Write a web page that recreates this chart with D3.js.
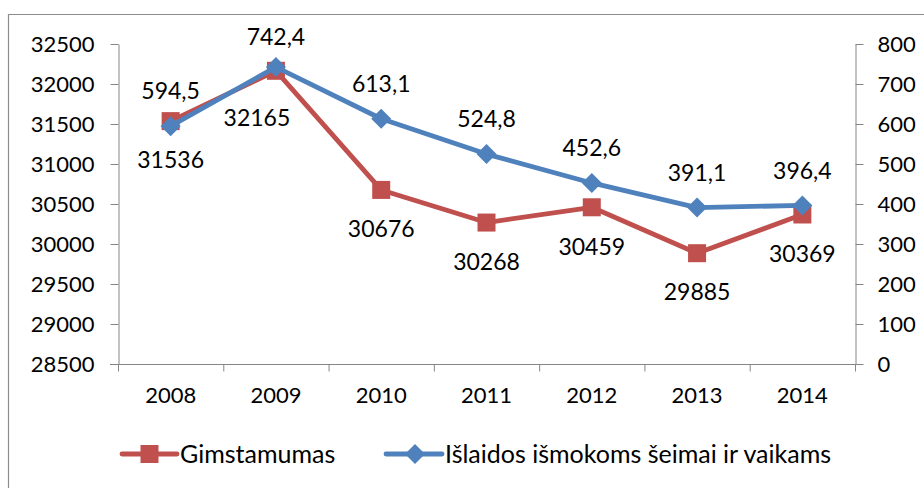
<!DOCTYPE html>
<html>
<head>
<meta charset="utf-8">
<script src="https://cdn.jsdelivr.net/npm/d3@7"></script>
<style>
  html, body { margin: 0; padding: 0; background: #fff; }
  svg { display: block; }
  text { font-family: Lato, "Open Sans", sans-serif; fill: #000; }
</style>
</head>
<body>
<svg id="chart" width="924" height="488"></svg>
<script>
// Years on the category axis
const years = ["2008", "2009", "2010", "2011", "2012", "2013", "2014"];
// Births per year (left axis)
const births = [31536, 32165, 30676, 30268, 30459, 29885, 30369];
// Spending on family and child benefits (right axis)
const benefits = [594.5, 742.4, 613.1, 524.8, 452.6, 391.1, 396.4];
// Axis ticks
const leftTicks = [28500, 29000, 29500, 30000, 30500, 31000, 31500, 32000, 32500];
const rightTicks = [0, 100, 200, 300, 400, 500, 600, 700, 800];
// Legend names
const seriesNames = ["Gimstamumas", "Išlaidos išmokoms šeimai ir vaikams"];

const RED = "#C0504D", BLUE = "#4F81BD", AXIS = "#868686";
const fmt = v => String(v).replace(".", ",");

const svg = d3.select("#chart");
const plotL = 118, plotR = 855, plotT = 44, plotB = 364;

// outer frame
svg.append("path").attr("d", `M8.5,488 V14.5 H924`)
  .attr("fill", "none").attr("stroke", "#8c8c8c").attr("stroke-width", 1.2);

const x = d3.scaleBand().domain(years).range([plotL, plotR]);
const yL = d3.scaleLinear().domain([28500, 32500]).range([plotB, plotT]);
const yR = d3.scaleLinear().domain([0, 800]).range([plotB, plotT]);
const cx = d => x(d) + x.bandwidth() / 2;

// left axis
const gL = svg.append("g").attr("transform", `translate(${plotL + 0.5},0)`)
  .call(d3.axisLeft(yL).tickValues(leftTicks).tickFormat(d3.format("d")).tickSize(8).tickSizeOuter(0).tickPadding(16));
// right axis
const gR = svg.append("g").attr("transform", `translate(${plotR + 0.5},0)`)
  .call(d3.axisRight(yR).tickValues(rightTicks).tickFormat(d3.format("d")).tickSize(8).tickSizeOuter(0).tickPadding(14));
// bottom axis with ticks on category boundaries
const gB = svg.append("g").attr("transform", `translate(0,${plotB + 0.5})`)
  .call(d3.axisBottom(x).tickSize(0).tickPadding(23));
gB.selectAll(".bound").data(d3.range(years.length + 1)).enter().append("line")
  .attr("x1", i => plotL + i * x.step() + 0.5).attr("x2", i => plotL + i * x.step() + 0.5)
  .attr("y1", 0).attr("y2", 7).attr("stroke", AXIS);
gB.append("line").attr("x1", plotL - 8).attr("x2", plotR + 8).attr("stroke", AXIS);

[gL, gR, gB].forEach(g => {
  g.selectAll(".domain").attr("stroke", AXIS);
  g.selectAll(".tick line").attr("stroke", AXIS);
  g.selectAll("text").attr("font-size", 22).attr("fill", "#000")
    .style("font-family", "Lato, 'Open Sans', sans-serif");
});
gB.select(".domain").remove();

// births series
const redLine = d3.line().x((d, i) => cx(years[i])).y(d => yL(d));
svg.append("path").datum(births).attr("d", redLine)
  .attr("fill", "none").attr("stroke", RED).attr("stroke-width", 4.8).attr("stroke-linejoin", "round");
svg.selectAll(".sq").data(births).enter().append("rect")
  .attr("x", (d, i) => cx(years[i]) - 9).attr("y", d => yL(d) - 9)
  .attr("width", 18).attr("height", 18).attr("fill", RED);

// benefits series
const blueLine = d3.line().x((d, i) => cx(years[i])).y(d => yR(d));
svg.append("path").datum(benefits).attr("d", blueLine)
  .attr("fill", "none").attr("stroke", BLUE).attr("stroke-width", 4.8).attr("stroke-linejoin", "round");
const diamond = s => `M0,${-s} L${s},0 L0,${s} L${-s},0 Z`;
svg.selectAll(".dm").data(benefits).enter().append("path")
  .attr("transform", (d, i) => `translate(${cx(years[i])},${yR(d)})`)
  .attr("d", diamond(10)).attr("fill", BLUE);

// data labels: births below, benefits above; the 2009 births label sits left of its point
const birthNudge = { 1: { dx: -19, dy: 47 } };
const benefitNudge = { 1: { dx: 0, dy: -30 } };
svg.selectAll(".lb").data(births).enter().append("text")
  .attr("x", (d, i) => cx(years[i]) + (birthNudge[i] ? birthNudge[i].dx : 0))
  .attr("y", (d, i) => yL(d) + (birthNudge[i] ? birthNudge[i].dy : 39))
  .attr("dy", "0.36em").attr("text-anchor", "middle").attr("font-size", 23)
  .text(d => fmt(d));
svg.selectAll(".lr").data(benefits).enter().append("text")
  .attr("x", (d, i) => cx(years[i]) + (benefitNudge[i] ? benefitNudge[i].dx : 0))
  .attr("y", (d, i) => yR(d) + (benefitNudge[i] ? benefitNudge[i].dy : -35))
  .attr("dy", "0.36em").attr("text-anchor", "middle").attr("font-size", 23)
  .text(d => fmt(d));

// legend
const lg = svg.append("g").attr("transform", "translate(0,454)");
const l1 = lg.append("g").attr("transform", "translate(122,0)");
l1.append("line").attr("x1", 0).attr("x2", 55).attr("stroke", RED).attr("stroke-width", 4.8).attr("stroke-linecap", "round");
l1.append("rect").attr("x", 27.5 - 9).attr("y", -9).attr("width", 18).attr("height", 18).attr("fill", RED);
l1.append("text").attr("x", 58).attr("dy", "0.36em").attr("font-size", 25).text(seriesNames[0]);
const l2 = lg.append("g").attr("transform", "translate(386,0)");
l2.append("line").attr("x1", 0).attr("x2", 56).attr("stroke", BLUE).attr("stroke-width", 4.8).attr("stroke-linecap", "round");
l2.append("path").attr("transform", "translate(29,0)").attr("d", diamond(10)).attr("fill", BLUE);
l2.append("text").attr("x", 59).attr("dy", "0.36em").attr("font-size", 25).text(seriesNames[1]);
</script>
</body>
</html>
